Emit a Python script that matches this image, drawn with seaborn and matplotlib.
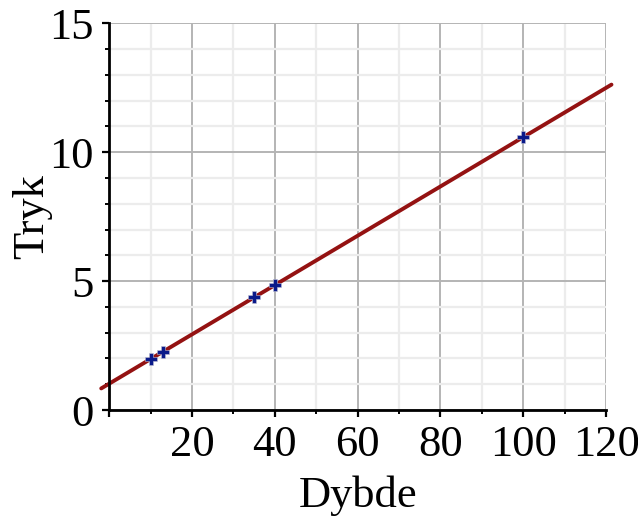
import numpy as np
import matplotlib
matplotlib.use("Agg")
import matplotlib.pyplot as plt
import matplotlib.ticker as mticker
import seaborn as sns

# measured points: depth vs pressure
dybde = [10, 13, 35, 40, 100]
tryk = [1.98, 2.25, 4.38, 4.84, 10.58]

x_ticks = [20, 40, 60, 80, 100, 120]
y_ticks = [0, 5, 10, 15]

sns.set_style("white")
plt.rcParams['font.family'] = ['Liberation Serif', 'DejaVu Serif']
plt.rcParams['text.color'] = 'black'
plt.rcParams['axes.labelcolor'] = 'black'

fig = plt.figure(figsize=(6.38, 5.16), dpi=100)
ax = fig.add_axes([0.171, 0.2054, 0.779, 0.7496])

# extent of the fitted line (it runs a little past the frame)
ax.set_xlim(-1.9, 121.3)
sns.regplot(x=dybde, y=tryk, ax=ax, ci=None, truncate=False, marker='P',
            scatter_kws={'s': 70, 'color': '#0a1a8a', 'edgecolor': '#c0c0d4',
                         'linewidths': 0.4, 'zorder': 4, 'alpha': 1},
            line_kws={'color': '#941212', 'linewidth': 2.8, 'clip_on': False,
                      'zorder': 3})

ax.set_xlim(0, 120)
ax.set_ylim(0, 15)

ax.xaxis.set_major_locator(mticker.FixedLocator([0] + x_ticks))
ax.xaxis.set_major_formatter(mticker.FuncFormatter(lambda v, p: '' if v == 0 else f'{v:g}'))
ax.xaxis.set_minor_locator(mticker.MultipleLocator(10))
ax.yaxis.set_major_locator(mticker.FixedLocator(y_ticks))
ax.yaxis.set_minor_locator(mticker.MultipleLocator(1))

ax.grid(True, which='major', color='#b4b4b4', linewidth=1.4, zorder=1)
ax.grid(True, which='minor', color='#ececec', linewidth=1.6, zorder=0)
ax.set_axisbelow(True)

for side in ['top', 'right']:
    ax.spines[side].set_visible(False)
for side in ['left', 'bottom']:
    ax.spines[side].set_color('black')
    ax.spines[side].set_linewidth(2.0)
    ax.spines[side].set_zorder(5)

ax.tick_params(axis='both', which='major', direction='out', length=5, width=1.6,
               labelsize=32, colors='black', left=True, bottom=True)
ax.tick_params(axis='both', which='minor', direction='out', length=3, width=1.4,
               colors='black', left=True, bottom=True)
ax.tick_params(axis='x', which='major', pad=6)
ax.tick_params(axis='y', which='major', pad=6)

ax.set_xlabel('Dybde', fontsize=32, labelpad=7, color='black')
ax.set_ylabel('Tryk', fontsize=32, labelpad=-2, color='black')

fig.savefig('out.png', dpi=100)
